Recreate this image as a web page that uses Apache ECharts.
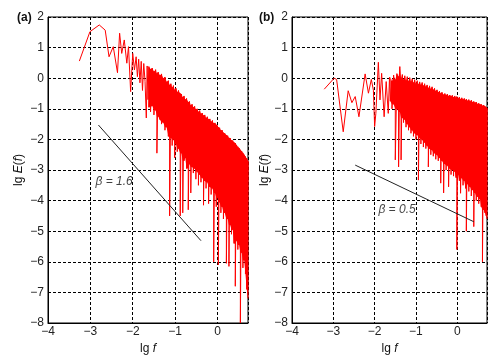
<!DOCTYPE html>
<html>
<head>
<meta charset="utf-8">
<script src="https://cdn.jsdelivr.net/npm/echarts@6/dist/echarts.min.js"></script>
<style>html,body{margin:0;padding:0;background:#fff;}#c{width:500px;height:364px;}</style>
</head>
<body>
<div id="c"></div>
<script>
// ---- Data ----
var xTicks = [-4, -3, -2, -1, 0];
var yTicks = [-8, -7, -6, -5, -4, -3, -2, -1, 0, 1, 2];

// Panel (a): sparse low-frequency part [lg f, lg E]
var aSparse = [
  [-3.26, 0.56], [-3.01, 1.52], [-2.79, 1.74], [-2.65, 1.57], [-2.56, 0.70],
  [-2.46, 1.03], [-2.36, 0.18], [-2.31, 1.47], [-2.26, 0.81], [-2.20, 1.25],
  [-2.14, 0.49], [-2.10, 1.03], [-2.05, -0.44], [-2.00, 0.81], [-1.96, 0.27],
  [-1.92, 0.70], [-1.89, 0.05], [-1.86, 0.62], [-1.83, -0.15], [-1.80, 0.55],
  [-1.77, -0.40], [-1.74, 0.48], [-1.71, -0.10], [-1.68, -1.30], [-1.66, 0.40],
  [-1.64, -0.70]
];
// Panel (a): dense part, rows [lg f, upper value, lower value]
var aBand = [
  [-1.62, 0.38, -0.95], [-1.58, 0.30, -1.10], [-1.54, 0.33, -0.90], [-1.50, 0.22, -1.20],
  [-1.46, 0.28, -1.05], [-1.43, 0.15, -2.45], [-1.40, 0.20, -1.25], [-1.36, 0.10, -1.35],
  [-1.32, 0.14, -1.50], [-1.28, 0.00, -1.45], [-1.24, 0.04, -1.70], [-1.20, -0.12, -1.60],
  [-1.16, -0.08, -1.90], [-1.13, -0.22, -4.50], [-1.10, -0.18, -1.95], [-1.07, -0.30, -2.20],
  [-1.04, -0.24, -2.00], [-1.01, -0.38, -2.60], [-0.98, -0.33, -2.15], [-0.95, -0.45, -2.40],
  [-0.92, -0.40, -2.30], [-0.88, -0.50, -4.50], [-0.85, -0.52, -2.45], [-0.82, -0.62, -4.40],
  [-0.79, -0.58, -2.70], [-0.76, -0.70, -2.60], [-0.73, -0.66, -2.95], [-0.69, -0.78, -4.30],
  [-0.66, -0.76, -2.80], [-0.63, -0.88, -3.75], [-0.60, -0.85, -2.90], [-0.57, -0.95, -3.10],
  [-0.54, -0.92, -2.95], [-0.51, -1.02, -3.30], [-0.48, -1.00, -3.05], [-0.45, -1.10, -3.50],
  [-0.42, -1.06, -3.15], [-0.39, -1.16, -3.40], [-0.36, -1.14, -3.25], [-0.33, -1.22, -4.15],
  [-0.30, -1.20, -3.35], [-0.27, -1.30, -3.60], [-0.24, -1.26, -3.40], [-0.21, -1.34, -4.10],
  [-0.18, -1.33, -3.55], [-0.15, -1.42, -3.80], [-0.12, -1.38, -3.60], [-0.09, -1.47, -6.00],
  [-0.06, -1.46, -3.75], [-0.03, -1.52, -4.20], [0.00, -1.55, -3.90], [0.02, -1.60, -6.10],
  [0.05, -1.62, -4.05], [0.08, -1.70, -4.40], [0.11, -1.70, -4.20], [0.14, -1.78, -4.60],
  [0.17, -1.80, -4.40], [0.21, -1.86, -6.05], [0.24, -1.88, -4.60], [0.27, -1.95, -6.15],
  [0.30, -1.96, -4.80], [0.33, -2.03, -5.10], [0.36, -2.04, -4.95], [0.39, -2.10, -5.40],
  [0.42, -2.12, -6.80], [0.45, -2.18, -5.30], [0.48, -2.24, -5.60], [0.51, -2.28, -5.45],
  [0.54, -2.34, -8.00], [0.57, -2.38, -5.70], [0.60, -2.44, -6.20], [0.63, -2.50, -5.95],
  [0.66, -2.56, -6.40], [0.69, -2.62, -6.90], [0.72, -2.70, -7.20]
];
var aFit = [[-2.81, -1.53], [-0.39, -5.31]];
var aLabelPos = [-2.89, -3.38];
var aLabel = 'β = 1.6';

// Panel (b)
var bSparse = [
  [-3.22, -0.36], [-2.98, 0.00], [-2.92, -0.04], [-2.76, -1.75], [-2.64, -0.41],
  [-2.55, -0.80], [-2.47, -0.60], [-2.38, -1.26], [-2.23, 0.14], [-2.15, -0.49],
  [-2.08, -0.04], [-2.03, -0.39], [-2.00, -1.58], [-1.97, -1.15], [-1.91, 0.52],
  [-1.87, -0.71], [-1.83, 0.16], [-1.77, -1.26], [-1.72, -0.11], [-1.67, -1.15],
  [-1.64, 0.03]
];
var bBand = [
  [-1.62, 0.05, -0.75], [-1.58, -0.10, -1.00], [-1.54, 0.10, -0.85], [-1.50, -0.05, -2.67],
  [-1.46, 0.15, -1.00], [-1.42, 0.05, -2.90], [-1.39, 0.38, -1.10], [-1.36, 0.00, -2.67],
  [-1.33, 0.12, -1.30], [-1.30, -0.05, -1.45], [-1.27, 0.08, -1.35], [-1.24, -0.08, -1.60],
  [-1.21, 0.05, -1.50], [-1.18, -0.10, -1.70], [-1.15, 0.02, -1.60], [-1.12, -0.12, -1.80],
  [-1.09, -0.02, -1.70], [-1.06, -0.15, -1.90], [-1.03, -0.05, -1.80], [-1.00, -0.18, -2.00],
  [-0.97, -0.08, -1.85], [-0.94, -0.20, -3.33], [-0.91, -0.12, -1.95], [-0.88, -0.22, -2.15],
  [-0.85, -0.14, -2.00], [-0.82, -0.25, -2.25], [-0.79, -0.18, -2.10], [-0.76, -0.28, -2.30],
  [-0.73, -0.22, -2.20], [-0.70, -0.32, -2.90], [-0.67, -0.25, -2.30], [-0.64, -0.35, -2.50],
  [-0.61, -0.28, -2.35], [-0.58, -0.38, -2.55], [-0.55, -0.33, -2.45], [-0.52, -0.42, -2.65],
  [-0.49, -0.38, -2.50], [-0.46, -0.46, -2.70], [-0.43, -0.42, -2.60], [-0.40, -0.50, -3.43],
  [-0.37, -0.46, -2.70], [-0.33, -0.54, -3.75], [-0.30, -0.50, -2.80], [-0.27, -0.56, -3.00],
  [-0.24, -0.52, -2.85], [-0.21, -0.58, -3.55], [-0.18, -0.55, -2.95], [-0.15, -0.60, -3.15],
  [-0.12, -0.56, -3.00], [-0.09, -0.62, -3.20], [-0.06, -0.58, -3.05], [-0.03, -0.64, -3.25],
  [-0.01, -0.60, -5.60], [0.02, -0.66, -3.15], [0.05, -0.62, -3.35], [0.08, -0.68, -3.76],
  [0.11, -0.64, -3.25], [0.14, -0.70, -3.50], [0.17, -0.66, -3.35], [0.20, -0.72, -3.60],
  [0.22, -0.68, -5.00], [0.25, -0.74, -3.45], [0.28, -0.70, -3.70], [0.31, -0.76, -3.55],
  [0.34, -0.72, -3.85], [0.37, -0.78, -3.65], [0.40, -0.76, -4.85], [0.43, -0.80, -3.75],
  [0.46, -0.78, -4.00], [0.49, -0.84, -3.87], [0.52, -0.82, -4.10], [0.55, -0.86, -3.95],
  [0.58, -0.85, -4.20], [0.61, -0.90, -6.00], [0.64, -0.88, -4.30], [0.67, -0.92, -4.40],
  [0.70, -0.94, -4.50], [0.72, -0.98, -4.60]
];
var bFit = [[-2.47, -2.84], [0.40, -4.69]];
var bLabelPos = [-1.92, -4.31];
var bLabel = 'β = 0.5';

var xMin = -4, xMax = 0.72, yMin = -8, yMax = 2;

// ---- Build ----
function spectrum(sparse, band) {
  var out = sparse.slice();
  band.forEach(function (r) { out.push([r[0], r[1]]); out.push([r[0], r[2]]); });
  return out;
}
var FONT = 'Liberation Sans, Arial, Helvetica, sans-serif';
function fmt(v) { return String(v).replace('-', '\u2212'); }
var richI = { i: { fontStyle: 'italic', fontSize: 12, fontFamily: FONT, color: '#111' } };

function xAxis(idx) {
  return {
    gridIndex: idx, type: 'value', min: xMin, max: xMax, interval: 1,
    axisLine: { show: true, onZero: false, lineStyle: { color: '#000', width: 1 } },
    axisTick: { show: false },
    axisLabel: { margin: 3, fontSize: 12, fontFamily: FONT, color: '#222', showMaxLabel: false,
      formatter: function (v) { return xTicks.indexOf(v) >= 0 ? fmt(v) : ''; } },
    splitLine: { show: true, lineStyle: { type: [3, 2], color: '#000', width: 1 } },
    name: 'lg {i|f}', nameLocation: 'middle', nameGap: 18,
    nameTextStyle: { fontSize: 12, fontFamily: FONT, color: '#111', rich: richI }
  };
}
function yAxis(idx, gap) {
  return {
    gridIndex: idx, type: 'value', min: yMin, max: yMax, interval: 1,
    axisLine: { show: true, onZero: false, lineStyle: { color: '#000', width: 1 } },
    axisTick: { show: false },
    axisLabel: { margin: 4, fontSize: 12, fontFamily: FONT, color: '#222',
      formatter: function (v) { return yTicks.indexOf(v) >= 0 ? fmt(v) : ''; } },
    splitLine: { show: true, lineStyle: { type: [3, 2], color: '#000', width: 1 } },
    name: 'lg {i|E}({i|f})', nameLocation: 'middle', nameGap: gap, nameRotate: 90,
    nameTextStyle: { fontSize: 12, fontFamily: FONT, color: '#111', rich: richI, padding: [0, 0, 0, 0] }
  };
}
// Solid body of the dense spectrum: polygon between the upper and the lower
// envelope; isolated downward spikes are left to the line itself.
function bandFill(idx, band) {
  return {
    type: 'custom', xAxisIndex: idx, yAxisIndex: idx, clip: true, silent: true, z: 2,
    data: [band[0]],
    renderItem: function (params, api) {
      var top = [], bot = [];
      for (var i = 0; i < band.length; i++) {
        top.push(api.coord([band[i][0], band[i][1]]));
        var a = i > 0 ? band[i - 1][2] : band[i][2];
        var b = i < band.length - 1 ? band[i + 1][2] : band[i][2];
        bot.push(api.coord([band[i][0], Math.max(band[i][2], Math.min(a, b))]));
      }
      return { type: 'polygon', shape: { points: top.concat(bot.reverse()) },
        style: { fill: '#ff0000' } };
    }
  };
}
function panelSeries(idx, sparse, band, fit, lpos, ltxt) {
  return [
    bandFill(idx, band),
    { type: 'line', xAxisIndex: idx, yAxisIndex: idx, data: spectrum(sparse, band),
      showSymbol: false, symbol: 'none', lineStyle: { color: '#ff0000', width: 1 },
      sampling: null, silent: true, z: 3 },
    { type: 'line', xAxisIndex: idx, yAxisIndex: idx, data: fit, showSymbol: false, symbol: 'none',
      lineStyle: { color: '#222', width: 1 }, silent: true, z: 4 },
    { type: 'scatter', xAxisIndex: idx, yAxisIndex: idx, data: [lpos], symbolSize: 1,
      itemStyle: { color: 'rgba(0,0,0,0)' }, silent: true, z: 5,
      label: { show: true, position: 'right', distance: 0, formatter: ltxt,
        fontStyle: 'italic', fontSize: 12, fontFamily: FONT, color: '#111' } }
  ];
}

var chart = echarts.init(document.getElementById('c'), null, { renderer: 'canvas' });
chart.setOption({
  animation: false,
  backgroundColor: '#fff',
  grid: [
    { left: 48, top: 17, width: 200, height: 306, show: true, borderColor: '#000', borderWidth: 1, backgroundColor: 'transparent' },
    { left: 292, top: 17, width: 195, height: 306, show: true, borderColor: '#000', borderWidth: 1, backgroundColor: 'transparent' }
  ],
  xAxis: [xAxis(0), xAxis(1)],
  yAxis: [yAxis(0, 23), yAxis(1, 21)],
  series: panelSeries(0, aSparse, aBand, aFit, aLabelPos, aLabel)
    .concat(panelSeries(1, bSparse, bBand, bFit, bLabelPos, bLabel)),
  graphic: [
    { type: 'text', left: 17, top: 12, style: { text: '(a)', font: 'bold 12px ' + FONT, fill: '#111' } },
    { type: 'text', left: 259, top: 12, style: { text: '(b)', font: 'bold 12px ' + FONT, fill: '#111' } }
  ]
});
</script>
</body>
</html>
